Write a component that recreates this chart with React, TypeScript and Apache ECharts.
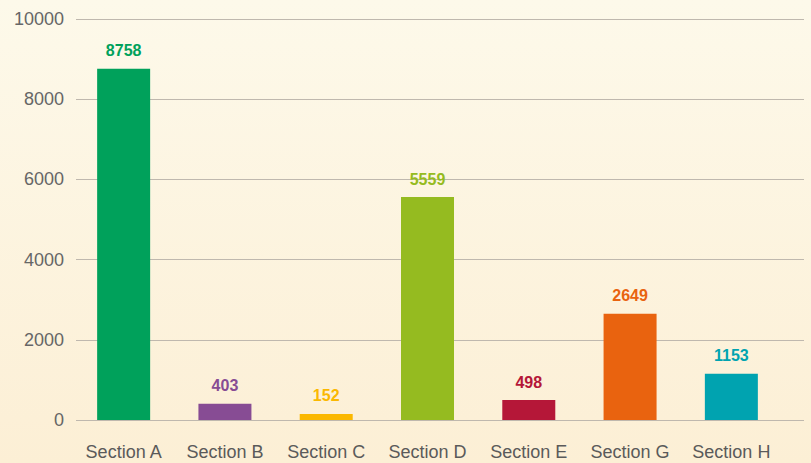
import React, { useEffect, useRef } from "react";
import * as echarts from "echarts";

const categories = ["Section A", "Section B", "Section C", "Section D", "Section E", "Section G", "Section H"];
const values = [8758, 403, 152, 5559, 498, 2649, 1153];
const colors = ["#00a15b", "#874c94", "#fbb800", "#95bb20", "#b51738", "#e9630f", "#00a3b0"];
const yTicks = [0, 2000, 4000, 6000, 8000, 10000];

export default function App() {
  const ref = useRef<HTMLDivElement>(null);
  useEffect(() => {
    if (!ref.current) return;
    const chart = echarts.init(ref.current, null, { renderer: "svg" });
    const font = "'Liberation Sans', Arial, Helvetica, sans-serif";
    chart.setOption({
      animation: false,
      backgroundColor: "transparent",
      grid: [
        { left: 76, right: 7, top: 19, bottom: 43 },
        { left: 73, right: 29, top: 19, bottom: 43 },
      ],
      xAxis: [
        { gridIndex: 0, type: "category", data: categories, show: false },
        {
          gridIndex: 1,
          type: "category",
          data: categories,
          axisLine: { show: false },
          axisTick: { show: false },
          axisLabel: {
            color: "#5a5a5a",
            fontSize: 18,
            fontFamily: font,
            margin: 23,
            interval: 0,
            hideOverlap: false,
          },
        },
      ],
      yAxis: [
        {
          gridIndex: 0,
          type: "value",
          min: yTicks[0],
          max: yTicks[yTicks.length - 1],
          interval: 2000,
          axisLine: { show: false },
          axisTick: { show: false },
          axisLabel: {
            color: "#666",
            fontSize: 18,
            fontFamily: font,
            margin: 12,
            formatter: (v: number) => String(v),
          },
          splitLine: { lineStyle: { color: "#bfb8ae", width: 1 } },
        },
        {
          gridIndex: 1,
          type: "value",
          min: yTicks[0],
          max: yTicks[yTicks.length - 1],
          interval: 2000,
          show: false,
          splitLine: { show: false },
        },
      ],
      series: [
        {
          type: "bar",
          xAxisIndex: 1,
          yAxisIndex: 1,
          barWidth: 53,
          data: values.map((v, i) => ({
            value: v,
            itemStyle: { color: colors[i] },
            label: { color: colors[i] },
          })),
          label: {
            show: true,
            position: "top",
            distance: 10,
            fontSize: 16,
            fontWeight: "bold",
            fontFamily: font,
          },
        },
      ],
    });
    return () => chart.dispose();
  }, []);
  return (
    <div
      style={{
        position: "fixed",
        left: 0,
        top: 0,
        width: 811,
        height: 463,
        background: "linear-gradient(to bottom, #fdf9ea, #fcefd5)",
      }}
    >
      <div ref={ref} style={{ width: 811, height: 463 }} />
    </div>
  );
}
